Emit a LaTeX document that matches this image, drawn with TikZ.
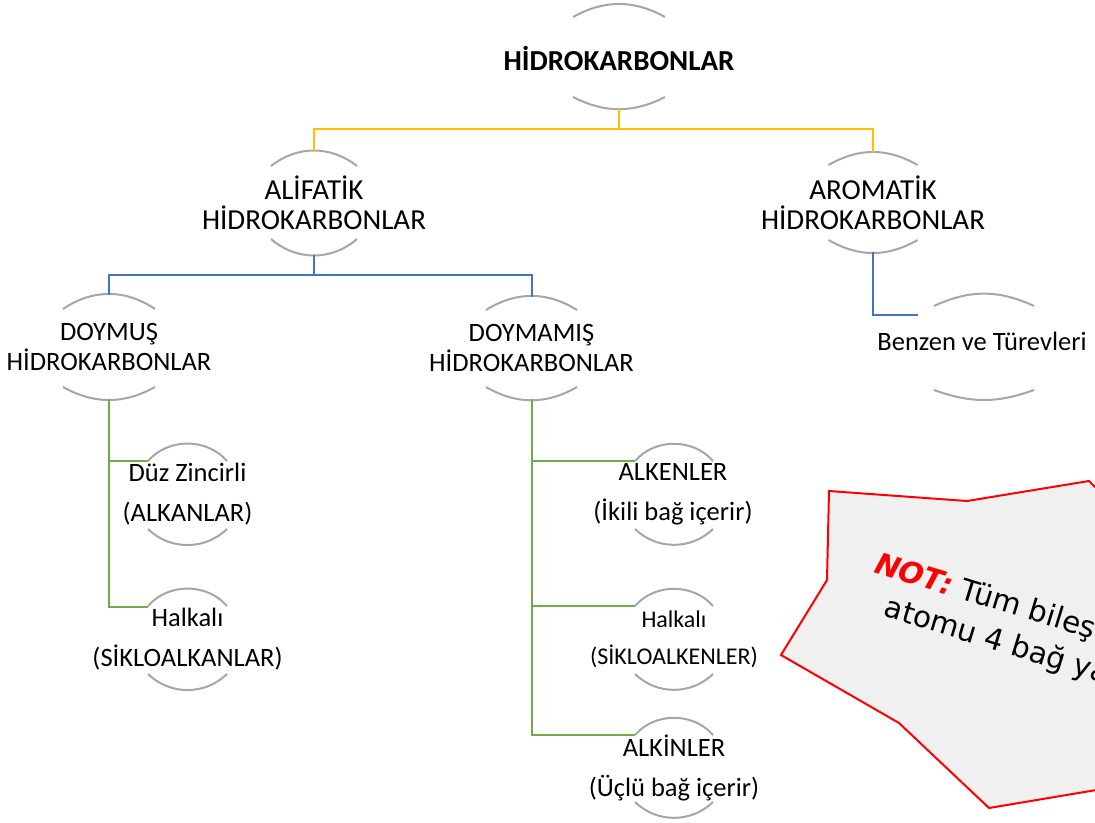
\documentclass[tikz,border=0pt]{standalone}
\usepackage{fontspec}
\setmainfont{Carlito}
\newfontfamily\dejavu{DejaVu Sans}
\usetikzlibrary{calc}
\definecolor{arcgray}{HTML}{A6A6A6}
\definecolor{yel}{HTML}{FFC000}
\definecolor{blu}{HTML}{4472C4}
\definecolor{grn}{HTML}{70AD47}
\definecolor{notefill}{HTML}{F0F0F0}
\newcommand\arcpair[6]{%
  \draw[arcline] ($(#1.north)+(-#2,-#3)$) to[bend left=#4] ($(#1.north)+(#2,-#3)$);
  \draw[arcline] ($(#1.south)+(-#2,#5)$) to[bend right=#6] ($(#1.south)+(#2,#5)$);}
\begin{document}
\begin{tikzpicture}[x=1pt,y=1pt,
  frame/.style n args={2}{draw=none,rectangle,inner sep=0pt,outer sep=0pt,minimum width=#1,minimum height=#2},
  arcline/.style={draw=arcgray,line width=2pt},
  yline/.style={draw=yel,line width=2pt},
  bline/.style={draw=blu,line width=2pt},
  gline/.style={draw=grn,line width=2pt},
  txtA/.style={align=center,inner sep=0pt,font=\fontsize{29}{30}\selectfont},
  txtB/.style={align=center,inner sep=0pt,font=\fontsize{26.5}{30}\selectfont},
  txtC/.style={align=center,inner sep=0pt,font=\fontsize{26.5}{40}\selectfont},
  txtD/.style={align=center,inner sep=0pt,font=\fontsize{24}{37}\selectfont},
  notetxt/.style={anchor=base west,inner sep=0pt,rotate=-17,align=left,font=\dejavu\fontsize{29.5}{39}\selectfont}]
\useasboundingbox (0,0) rectangle (1095,-822);
\fill[white] (0,0) rectangle (1095,-822);

% note shape
\begin{scope}
\clip (0,0) rectangle (1095,-822);
\draw[draw=red,fill=notefill,line width=2pt,line join=miter]
  (829,-491) -- (967,-501) -- (1089,-481) -- (1120,-512) -- (1200,-560) -- (1200,-780) -- (1150,-781)
  -- (989,-808) -- (899,-723) -- (781,-655) -- (827,-580) -- cycle;
\node[notetxt] (note) at (861.6,-609.3) {\textcolor{red}{\bfseries\itshape NOT:} Tüm bileş\\\hspace*{22pt}atomu 4 bağ ya};
\end{scope}

% frames
\node[frame={92}{103}] (top) at (619,-56.5) {};
\node[frame={86}{104}] (alif) at (314,-203) {};
\node[frame={89}{99}] (arom) at (873,-202.5) {};
\node[frame={92}{104}] (doy) at (109,-347) {};
\node[frame={91}{102}] (doymam) at (531.5,-348) {};
\node[frame={100}{104}] (benz) at (984,-347) {};
\node[frame={79}{102}] (duz) at (187.5,-494) {};
\node[frame={79}{102}] (halk1) at (187.5,-639) {};
\node[frame={78}{102}] (alken) at (674,-494) {};
\node[frame={78}{102}] (halk2) at (674,-639) {};
\node[frame={78}{101}] (alkin) at (674,-767.5) {};

% arcs
\arcpair{top}{46}{12}{29}{11}{27}
\arcpair{alif}{43}{15}{38}{16}{41}
\arcpair{arom}{44.5}{12}{30}{12}{30}
\arcpair{doy}{46}{14}{34}{12}{29}
\arcpair{doymam}{45.5}{13}{32}{12}{30}
\arcpair{benz}{50}{11}{25}{9}{20}
\arcpair{duz}{39.5}{18}{49}{16}{44}
\arcpair{halk1}{39.5}{18}{49}{16}{44}
\arcpair{alken}{39}{18}{49}{16}{44}
\arcpair{halk2}{39}{18}{49}{16}{44}
\arcpair{alkin}{39}{18}{49}{16}{44}

% texts
\node[txtA,font=\bfseries\fontsize{29}{30}\selectfont] (topT) at ($(top.center)+(0,-1.5)$) {HİDROKARBONLAR};
\node[txtA] (alifT) at (alif.center) {ALİFATİK\\HİDROKARBONLAR};
\node[txtA] (aromT) at (arom.center) {AROMATİK\\HİDROKARBONLAR};
\node[txtB] (doyT) at (doy.center) {DOYMUŞ\\HİDROKARBONLAR};
\node[txtB] (doymamT) at (doymam.center) {DOYMAMIŞ\\HİDROKARBONLAR};
\node[txtB] (benzT) at ($(benz.center)+(-2,6)$) {Benzen ve Türevleri};
\node[txtC] (duzT) at (duz.center) {Düz Zincirli\\(ALKANLAR)};
\node[txtC] (halk1T) at (halk1.center) {Halkalı\\(SİKLOALKANLAR)};
\node[txtC] (alkenT) at ($(alken.center)+(-1,0)$) {ALKENLER\\(İkili bağ içerir)};
\node[txtD] (halk2T) at (halk2.center) {Halkalı\\(SİKLOALKENLER)};
\node[txtC] (alkinT) at (alkin.center) {ALKİNLER\\(Üçlü bağ içerir)};

% connectors
\coordinate (bz) at (918,-315);
\draw[yline] (top.south) -- ++(0,-21) -| (alif.north);
\draw[yline] (top.south) -- ++(0,-21) -| (arom.north);
\draw[bline] (alif.south) -- ++(0,-20) -| (doy.north);
\draw[bline] (alif.south) -- ++(0,-20) -| (doymam.north);
\draw[bline] (arom.south) |- (bz);
\draw[gline] (doy.south) |- ([yshift=-18pt]duz.north west);
\draw[gline] (doy.south) |- ([yshift=-19pt]halk1.north west);
\draw[gline] (doymam.south) |- ([yshift=-18pt]alken.north west);
\draw[gline] (doymam.south) |- ([yshift=-18pt]halk2.north west);
\draw[gline] (doymam.south) |- ([yshift=-18pt]alkin.north west);
\end{tikzpicture}
\end{document}
